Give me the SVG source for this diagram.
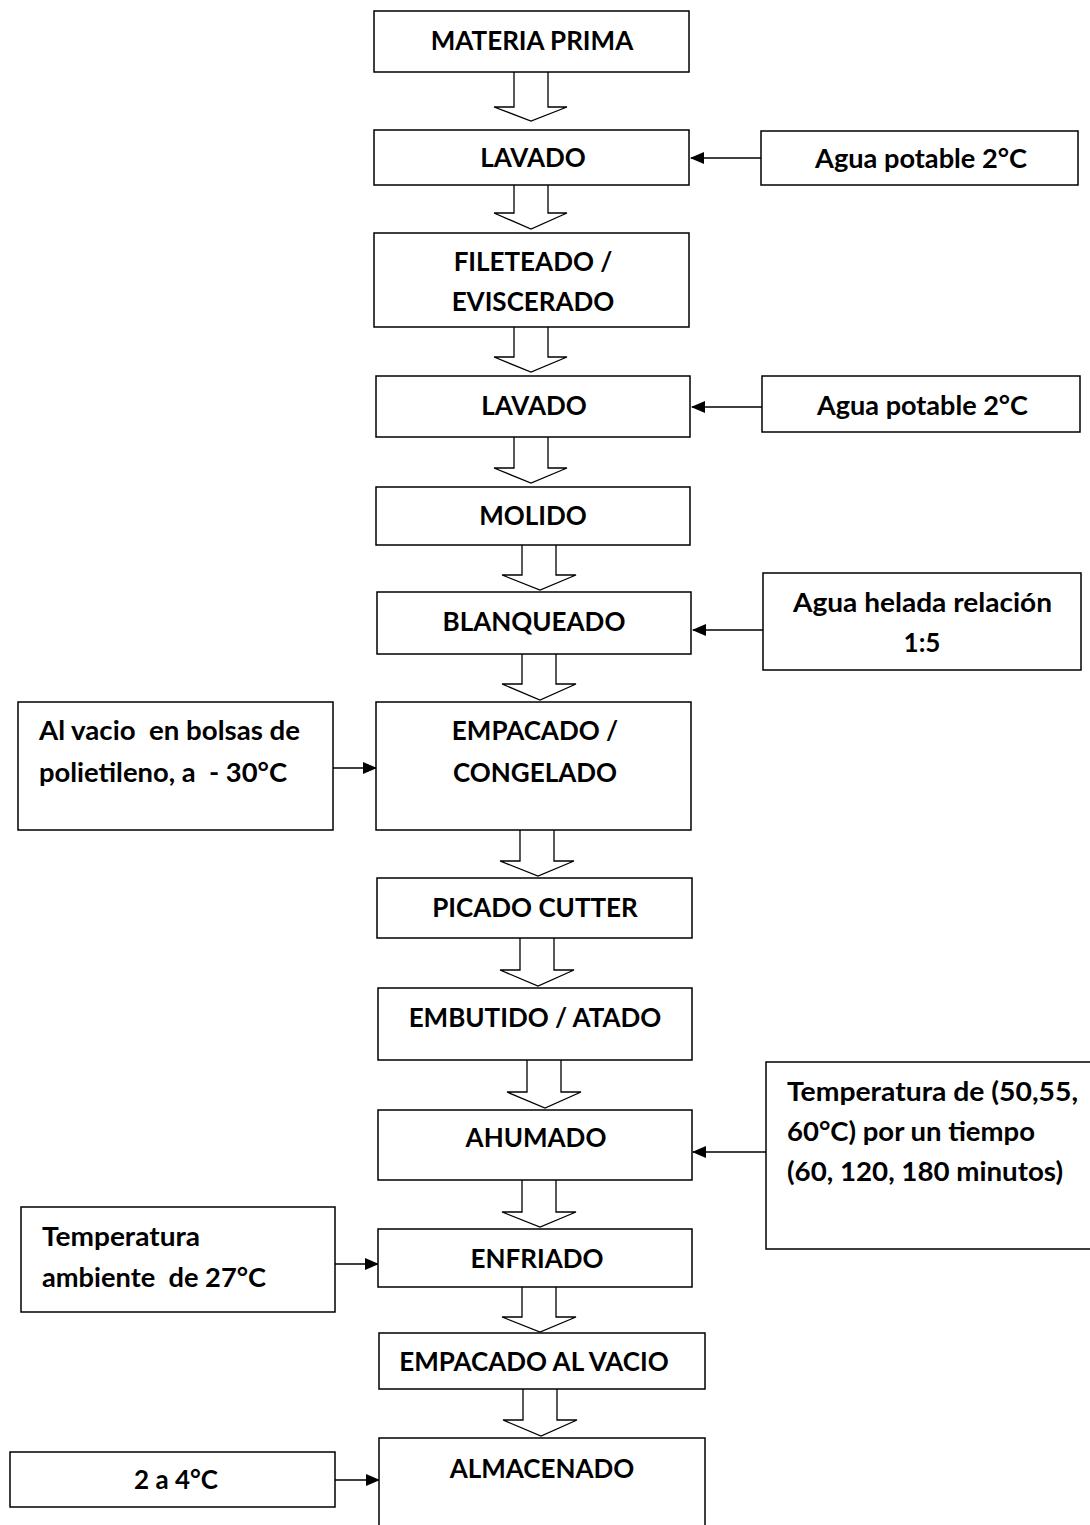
<svg xmlns="http://www.w3.org/2000/svg" width="1090" height="1525" viewBox="0 0 1090 1525">
<style>
.box{fill:#fff;stroke:#000;stroke-width:1.5}
.t{font-family:Lato,"Open Sans","Liberation Sans",sans-serif;font-weight:bold;font-size:26px;fill:#000}
.c{text-anchor:middle}
.blk{fill:#fff;stroke:#000;stroke-width:1.3}
.ln{stroke:#000;stroke-width:1.3;fill:none}
</style>
<defs>
<marker id="ah" markerWidth="14" markerHeight="12" refX="13" refY="6" orient="auto" markerUnits="userSpaceOnUse">
<path d="M0,0 L14,6 L0,12 Z" fill="#000"/>
</marker>
</defs>
<rect width="1090" height="1525" fill="#fff"/>
<g id="connectors">
<path class="blk" d="M514,72 V107 H494 L531,121 L567,107 H548 V72"/>
<path class="blk" d="M514,185 V213 H494 L531,229 L567,213 H548 V185"/>
<path class="blk" d="M514,327 V357 H494 L531,372 L567,357 H548 V327"/>
<path class="blk" d="M514,437 V468 H494 L531,483 L567,468 H548 V437"/>
<path class="blk" d="M522,545 V575 H502 L540,590 L576,575 H556 V545"/>
<path class="blk" d="M522,654 V684 H502 L540,700 L576,684 H556 V654"/>
<path class="blk" d="M520,830 V861 H500 L538,876 L574,861 H554 V830"/>
<path class="blk" d="M520,938 V970 H500 L538,986 L574,970 H554 V938"/>
<path class="blk" d="M527,1060 V1092 H507 L545,1108 L581,1092 H561 V1060"/>
<path class="blk" d="M522,1180 V1212 H502 L540,1227 L576,1212 H556 V1180"/>
<path class="blk" d="M522,1287 V1317 H502 L540,1332 L576,1317 H556 V1287"/>
<path class="blk" d="M523,1389 V1420 H503 L541,1436 L577,1420 H557 V1389"/>
<line class="ln" x1="761" y1="158" x2="691" y2="158" marker-end="url(#ah)"/>
<line class="ln" x1="762" y1="407" x2="692" y2="407" marker-end="url(#ah)"/>
<line class="ln" x1="763" y1="630" x2="693" y2="630" marker-end="url(#ah)"/>
<line class="ln" x1="333" y1="768" x2="376" y2="768" marker-end="url(#ah)"/>
<line class="ln" x1="766" y1="1152" x2="693" y2="1152" marker-end="url(#ah)"/>
<line class="ln" x1="335" y1="1264" x2="378" y2="1264" marker-end="url(#ah)"/>
<line class="ln" x1="335" y1="1480" x2="379" y2="1480" marker-end="url(#ah)"/>
</g>
<g id="n1"><rect class="box" x="374" y="11" width="315" height="61"/><text class="t c" x="532" y="50">MATERIA PRIMA</text></g>
<g id="n2"><rect class="box" x="374" y="130" width="315" height="55"/><text class="t c" x="533" y="167">LAVADO</text></g>
<g id="s1"><rect class="box" x="761" y="131" width="317" height="54"/><text class="t" x="815" y="168" textLength="212" lengthAdjust="spacingAndGlyphs">Agua potable 2°C</text></g>
<g id="n3"><rect class="box" x="374" y="233" width="315" height="94"/><text class="t c" x="533" y="271">FILETEADO /</text><text class="t c" x="533" y="311">EVISCERADO</text></g>
<g id="n4"><rect class="box" x="376" y="376" width="314" height="61"/><text class="t c" x="534" y="415">LAVADO</text></g>
<g id="s2"><rect class="box" x="762" y="376" width="318" height="56"/><text class="t" x="817" y="415" textLength="211" lengthAdjust="spacingAndGlyphs">Agua potable 2°C</text></g>
<g id="n5"><rect class="box" x="376" y="487" width="314" height="58"/><text class="t c" x="533" y="525">MOLIDO</text></g>
<g id="n6"><rect class="box" x="377" y="592" width="314" height="62"/><text class="t c" x="534" y="631">BLANQUEADO</text></g>
<g id="s3"><rect class="box" x="763" y="573" width="318" height="97"/><text class="t" x="793" y="612" textLength="259" lengthAdjust="spacingAndGlyphs">Agua helada relación</text><text class="t c" x="922" y="652">1:5</text></g>
<g id="n7"><rect class="box" x="376" y="702" width="315" height="128"/><text class="t c" x="535" y="740">EMPACADO /</text><text class="t c" x="535" y="782">CONGELADO</text></g>
<g id="s4"><rect class="box" x="18" y="702" width="315" height="128"/><text class="t" x="39" y="740" xml:space="preserve" textLength="261" lengthAdjust="spacingAndGlyphs">Al vacio  en bolsas de</text><text class="t" x="39" y="782" xml:space="preserve" textLength="248" lengthAdjust="spacingAndGlyphs">polietileno, a  - 30°C</text></g>
<g id="n8"><rect class="box" x="377" y="878" width="315" height="60"/><text class="t c" x="535" y="917">PICADO CUTTER</text></g>
<g id="n9"><rect class="box" x="378" y="988" width="314" height="72"/><text class="t c" x="535" y="1027">EMBUTIDO / ATADO</text></g>
<g id="n10"><rect class="box" x="378" y="1110" width="314" height="70"/><text class="t c" x="536" y="1147">AHUMADO</text></g>
<g id="s5"><rect class="box" x="766" y="1062" width="330" height="187"/><text class="t" x="787" y="1101" textLength="291" lengthAdjust="spacingAndGlyphs">Temperatura de (50,55,</text><text class="t" x="787" y="1141" textLength="248" lengthAdjust="spacingAndGlyphs">60°C) por un tiempo</text><text class="t" x="787" y="1181" textLength="276" lengthAdjust="spacingAndGlyphs">(60, 120, 180 minutos)</text></g>
<g id="n11"><rect class="box" x="378" y="1229" width="314" height="58"/><text class="t c" x="537" y="1268">ENFRIADO</text></g>
<g id="s6"><rect class="box" x="21" y="1207" width="314" height="105"/><text class="t" x="42" y="1246" textLength="158" lengthAdjust="spacingAndGlyphs">Temperatura</text><text class="t" x="42" y="1287" xml:space="preserve" textLength="224" lengthAdjust="spacingAndGlyphs">ambiente  de 27°C</text></g>
<g id="n12"><rect class="box" x="379" y="1333" width="326" height="56"/><text class="t c" x="534" y="1371">EMPACADO AL VACIO</text></g>
<g id="n13"><rect class="box" x="379" y="1438" width="326" height="95"/><text class="t c" x="542" y="1478">ALMACENADO</text></g>
<g id="s7"><rect class="box" x="10" y="1452" width="325" height="55"/><text class="t c" x="176" y="1489">2 a 4°C</text></g>
</svg>
